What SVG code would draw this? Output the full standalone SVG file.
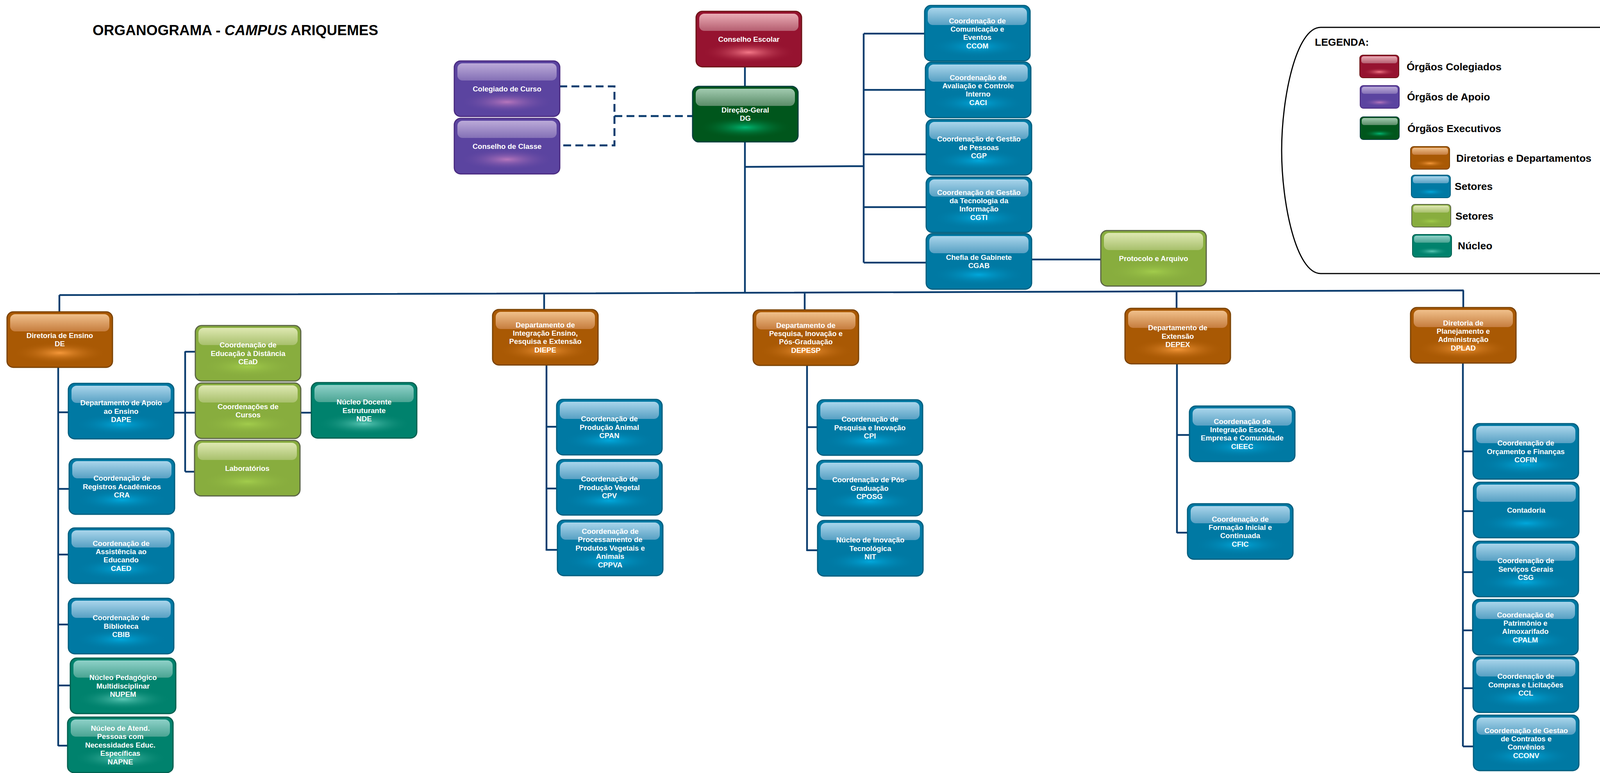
<svg xmlns="http://www.w3.org/2000/svg" width="4329" height="1978" viewBox="0 0 4329 1978">
<style>
text{font-family:"Liberation Sans",Arial,Helvetica,sans-serif;font-weight:bold}
.node text{fill:#ffffff;font-size:18.6px;text-anchor:middle}
.b{stroke-width:3}
.red .b{fill:#961330;stroke:#6e1416}.red .h{fill:url(#hl-red)}.red .g{fill:url(#gl-red)}
.pur .b{fill:#5b44a0;stroke:#4a2a80}.pur .h{fill:url(#hl-pur)}.pur .g{fill:url(#gl-pur)}
.grn .b{fill:#00561c;stroke:#043e3c}.grn .h{fill:url(#hl-grn)}.grn .g{fill:url(#gl-grn)}
.org .b{fill:#a95904;stroke:#7a4202}.org .h{fill:url(#hl-org)}.org .g{fill:url(#gl-org)}
.blu .b{fill:#0079a3;stroke:#005e7e}.blu .h{fill:url(#hl-blu)}.blu .g{fill:url(#gl-blu)}
.lgr .b{fill:#88ad3e;stroke:#5b6446}.lgr .h{fill:url(#hl-lgr)}.lgr .g{fill:url(#gl-lgr)}
.tea .b{fill:#00826d;stroke:#005f4f}.tea .h{fill:url(#hl-tea)}.tea .g{fill:url(#gl-tea)}
.con{fill:none;stroke:#0a3c6e;stroke-width:4.5}
.dash{fill:none;stroke:#0a3c6e;stroke-width:5;stroke-dasharray:20 11}
.leg{font-size:26.5px;fill:#000}
</style>
<defs>
<linearGradient id="hl-red" x1="0" y1="0" x2="0" y2="1"><stop offset="0" stop-color="#eaacb5"/><stop offset="1" stop-color="#b55e70"/></linearGradient>
<linearGradient id="hl-pur" x1="0" y1="0" x2="0" y2="1"><stop offset="0" stop-color="#bbaad8"/><stop offset="1" stop-color="#8470b6"/></linearGradient>
<linearGradient id="hl-grn" x1="0" y1="0" x2="0" y2="1"><stop offset="0" stop-color="#a2cbb0"/><stop offset="1" stop-color="#5a8c68"/></linearGradient>
<linearGradient id="hl-org" x1="0" y1="0" x2="0" y2="1"><stop offset="0" stop-color="#f0c08b"/><stop offset="1" stop-color="#c67d3e"/></linearGradient>
<linearGradient id="hl-blu" x1="0" y1="0" x2="0" y2="1"><stop offset="0" stop-color="#a9d5eb"/><stop offset="1" stop-color="#57a0c3"/></linearGradient>
<linearGradient id="hl-lgr" x1="0" y1="0" x2="0" y2="1"><stop offset="0" stop-color="#dee8b2"/><stop offset="1" stop-color="#a8c06c"/></linearGradient>
<linearGradient id="hl-tea" x1="0" y1="0" x2="0" y2="1"><stop offset="0" stop-color="#8ed1c8"/><stop offset="1" stop-color="#4aa493"/></linearGradient>
<radialGradient id="gl-red"><stop offset="0" stop-color="#f47888"/><stop offset="1" stop-color="#961330" stop-opacity="0"/></radialGradient>
<radialGradient id="gl-pur"><stop offset="0" stop-color="#b676bc"/><stop offset="1" stop-color="#5b44a0" stop-opacity="0"/></radialGradient>
<radialGradient id="gl-grn"><stop offset="0" stop-color="#00b773"/><stop offset="1" stop-color="#00561c" stop-opacity="0"/></radialGradient>
<radialGradient id="gl-org"><stop offset="0" stop-color="#f5983a"/><stop offset="1" stop-color="#a95904" stop-opacity="0"/></radialGradient>
<radialGradient id="gl-blu"><stop offset="0" stop-color="#00a8dc"/><stop offset="1" stop-color="#0079a3" stop-opacity="0"/></radialGradient>
<radialGradient id="gl-lgr"><stop offset="0" stop-color="#a2cc4c"/><stop offset="1" stop-color="#88ad3e" stop-opacity="0"/></radialGradient>
<radialGradient id="gl-tea"><stop offset="0" stop-color="#5cc8b6"/><stop offset="1" stop-color="#00826d" stop-opacity="0"/></radialGradient>
</defs>
<rect width="4329" height="1978" fill="#ffffff"/>

<text id="title" x="237" y="90" font-size="37" fill="#000">ORGANOGRAMA - <tspan font-style="italic">CAMPUS</tspan> ARIQUEMES</text>

<g id="connectors">
<path class="con" d="M1907,172V220M1907,364V750M1907,427L2211,425M2211,86V672M2211,86H2366M2211,230H2368M2211,395H2371M2211,530H2371M2211,672H2371M2641,664H2818"/>
<path class="con" d="M152,755L3747,743M152,755V798M1393,751V792M2060,749V793M3012,746V789M3746,743V787"/>
<path class="con" d="M149,941V1909M149,1055H175M149,1251H177M149,1419H175M149,1598H175M149,1754H180M149,1908H173"/>
<path class="con" d="M445,1056H500M474,899V1207M474,900H500M474,1207H498M770,1056H797"/>
<path class="con" d="M1399,934V1409M1399,1092H1425M1399,1250H1425M1399,1407H1427"/>
<path class="con" d="M2066,935V1410M2066,1093H2092M2066,1251H2091M2066,1408H2093"/>
<path class="con" d="M3013,931V1364M3013,1113H3045M3013,1363H3040"/>
<path class="con" d="M3745,929V1910M3745,1155H3771M3745,1308H3772M3745,1464H3771M3745,1613H3770M3745,1761H3771M3745,1910H3772"/>
<path class="dash" d="M1432,221H1573V372H1432M1573,297H1773"/>
</g>

<g id="n-conselho-escolar" class="node red" transform="translate(1782,29)"><rect class="b" width="270" height="142" rx="16"/><rect class="h" x="8" y="6" width="254" height="44" rx="13"/><ellipse class="g" cx="135" cy="105" rx="120" ry="28"/><text x="135" y="77.7">Conselho Escolar</text></g>
<g id="n-colegiado" class="node pur" transform="translate(1163,156)"><rect class="b" width="270" height="142" rx="16"/><rect class="h" x="8" y="6" width="254" height="44" rx="13"/><ellipse class="g" cx="135" cy="105" rx="120" ry="28"/><text x="135" y="77.7">Colegiado de Curso</text></g>
<g id="n-conselho-classe" class="node pur" transform="translate(1163,303)"><rect class="b" width="270" height="142" rx="16"/><rect class="h" x="8" y="6" width="254" height="44" rx="13"/><ellipse class="g" cx="135" cy="105" rx="120" ry="28"/><text x="135" y="77.7">Conselho de Classe</text></g>
<g id="n-dg" class="node grn" transform="translate(1773,221)"><rect class="b" width="270" height="142" rx="16"/><rect class="h" x="8" y="6" width="254" height="44" rx="13"/><ellipse class="g" cx="135" cy="105" rx="120" ry="28"/><text x="135" y="67">Direção-Geral<tspan x="135" dy="21.4">DG</tspan></text></g>

<g id="n-ccom" class="node blu" transform="translate(2367,14)"><rect class="b" width="270" height="142" rx="16"/><rect class="h" x="8" y="6" width="254" height="44" rx="13"/><ellipse class="g" cx="135" cy="105" rx="120" ry="28"/><text x="135" y="45.6">Coordenação de<tspan x="135" dy="21.4">Comunicação e</tspan><tspan x="135" dy="21.4">Eventos</tspan><tspan x="135" dy="21.4">CCOM</tspan></text></g>
<g id="n-caci" class="node blu" transform="translate(2369,159)"><rect class="b" width="270" height="142" rx="16"/><rect class="h" x="8" y="6" width="254" height="44" rx="13"/><ellipse class="g" cx="135" cy="105" rx="120" ry="28"/><text x="135" y="45.6">Coordenação de<tspan x="135" dy="21.4">Avaliação e Controle</tspan><tspan x="135" dy="21.4">Interno</tspan><tspan x="135" dy="21.4">CACI</tspan></text></g>
<g id="n-cgp" class="node blu" transform="translate(2371,306)"><rect class="b" width="270" height="142" rx="16"/><rect class="h" x="8" y="6" width="254" height="44" rx="13"/><ellipse class="g" cx="135" cy="105" rx="120" ry="28"/><text x="135" y="56.3">Coordenação de Gestão<tspan x="135" dy="21.4">de Pessoas</tspan><tspan x="135" dy="21.4">CGP</tspan></text></g>
<g id="n-cgti" class="node blu" transform="translate(2371,453)"><rect class="b" width="270" height="142" rx="16"/><rect class="h" x="8" y="6" width="254" height="44" rx="13"/><ellipse class="g" cx="135" cy="105" rx="120" ry="28"/><text x="135" y="45.6">Coordenação de Gestão<tspan x="135" dy="21.4">da Tecnologia da</tspan><tspan x="135" dy="21.4">Informação</tspan><tspan x="135" dy="21.4">CGTI</tspan></text></g>
<g id="n-cgab" class="node blu" transform="translate(2371,598)"><rect class="b" width="270" height="142" rx="16"/><rect class="h" x="8" y="6" width="254" height="44" rx="13"/><ellipse class="g" cx="135" cy="105" rx="120" ry="28"/><text x="135" y="67">Chefia de Gabinete<tspan x="135" dy="21.4">CGAB</tspan></text></g>
<g id="n-protocolo" class="node lgr" transform="translate(2818,590)"><rect class="b" width="270" height="142" rx="16"/><rect class="h" x="8" y="6" width="254" height="44" rx="13"/><ellipse class="g" cx="135" cy="105" rx="120" ry="28"/><text x="135" y="77.7">Protocolo e Arquivo</text></g>

<g id="n-de" class="node org" transform="translate(18,798)"><rect class="b" width="270" height="142" rx="16"/><rect class="h" x="8" y="6" width="254" height="44" rx="13"/><ellipse class="g" cx="135" cy="105" rx="120" ry="28"/><text x="135" y="67">Diretoria de Ensino<tspan x="135" dy="21.4">DE</tspan></text></g>
<g id="n-dape" class="node blu" transform="translate(175,981)"><rect class="b" width="270" height="142" rx="16"/><rect class="h" x="8" y="6" width="254" height="44" rx="13"/><ellipse class="g" cx="135" cy="105" rx="120" ry="28"/><text x="135" y="56.3">Departamento de Apoio<tspan x="135" dy="21.4">ao Ensino</tspan><tspan x="135" dy="21.4">DAPE</tspan></text></g>
<g id="n-cra" class="node blu" transform="translate(177,1174)"><rect class="b" width="270" height="142" rx="16"/><rect class="h" x="8" y="6" width="254" height="44" rx="13"/><ellipse class="g" cx="135" cy="105" rx="120" ry="28"/><text x="135" y="56.3">Coordenação de<tspan x="135" dy="21.4">Registros Acadêmicos</tspan><tspan x="135" dy="21.4">CRA</tspan></text></g>
<g id="n-caed" class="node blu" transform="translate(175,1351)"><rect class="b" width="270" height="142" rx="16"/><rect class="h" x="8" y="6" width="254" height="44" rx="13"/><ellipse class="g" cx="135" cy="105" rx="120" ry="28"/><text x="135" y="45.6">Coordenação de<tspan x="135" dy="21.4">Assistência ao</tspan><tspan x="135" dy="21.4">Educando</tspan><tspan x="135" dy="21.4">CAED</tspan></text></g>
<g id="n-cbib" class="node blu" transform="translate(175,1531)"><rect class="b" width="270" height="142" rx="16"/><rect class="h" x="8" y="6" width="254" height="44" rx="13"/><ellipse class="g" cx="135" cy="105" rx="120" ry="28"/><text x="135" y="56.3">Coordenação de<tspan x="135" dy="21.4">Biblioteca</tspan><tspan x="135" dy="21.4">CBIB</tspan></text></g>
<g id="n-nupem" class="node tea" transform="translate(180,1684)"><rect class="b" width="270" height="142" rx="16"/><rect class="h" x="8" y="6" width="254" height="44" rx="13"/><ellipse class="g" cx="135" cy="105" rx="120" ry="28"/><text x="135" y="56.3">Núcleo Pedagógico<tspan x="135" dy="21.4">Multidisciplinar</tspan><tspan x="135" dy="21.4">NUPEM</tspan></text></g>
<g id="n-napne" class="node tea" transform="translate(173,1835)"><rect class="b" width="270" height="142" rx="16"/><rect class="h" x="8" y="6" width="254" height="44" rx="13"/><ellipse class="g" cx="135" cy="105" rx="120" ry="28"/><text x="135" y="34.9">Núcleo de Atend.<tspan x="135" dy="21.4">Pessoas com</tspan><tspan x="135" dy="21.4">Necessidades Educ.</tspan><tspan x="135" dy="21.4">Específicas</tspan><tspan x="135" dy="21.4">NAPNE</tspan></text></g>
<g id="n-cead" class="node lgr" transform="translate(500,833)"><rect class="b" width="270" height="142" rx="16"/><rect class="h" x="8" y="6" width="254" height="44" rx="13"/><ellipse class="g" cx="135" cy="105" rx="120" ry="28"/><text x="135" y="56.3">Coordenação de<tspan x="135" dy="21.4">Educação à Distância</tspan><tspan x="135" dy="21.4">CEaD</tspan></text></g>
<g id="n-cursos" class="node lgr" transform="translate(500,980)"><rect class="b" width="270" height="142" rx="16"/><rect class="h" x="8" y="6" width="254" height="44" rx="13"/><ellipse class="g" cx="135" cy="105" rx="120" ry="28"/><text x="135" y="67">Coordenações de<tspan x="135" dy="21.4">Cursos</tspan></text></g>
<g id="n-labs" class="node lgr" transform="translate(498,1127)"><rect class="b" width="270" height="142" rx="16"/><rect class="h" x="8" y="6" width="254" height="44" rx="13"/><ellipse class="g" cx="135" cy="105" rx="120" ry="28"/><text x="135" y="77.7">Laboratórios</text></g>
<g id="n-nde" class="node tea" transform="translate(797,979)"><rect class="b" width="270" height="142" rx="16"/><rect class="h" x="8" y="6" width="254" height="44" rx="13"/><ellipse class="g" cx="135" cy="105" rx="120" ry="28"/><text x="135" y="56.3">Núcleo Docente<tspan x="135" dy="21.4">Estruturante</tspan><tspan x="135" dy="21.4">NDE</tspan></text></g>

<g id="n-diepe" class="node org" transform="translate(1261,792)"><rect class="b" width="270" height="142" rx="16"/><rect class="h" x="8" y="6" width="254" height="44" rx="13"/><ellipse class="g" cx="135" cy="105" rx="120" ry="28"/><text x="135" y="45.6">Departamento de<tspan x="135" dy="21.4">Integração Ensino,</tspan><tspan x="135" dy="21.4">Pesquisa e Extensão</tspan><tspan x="135" dy="21.4">DIEPE</tspan></text></g>
<g id="n-cpan" class="node blu" transform="translate(1425,1022)"><rect class="b" width="270" height="142" rx="16"/><rect class="h" x="8" y="6" width="254" height="44" rx="13"/><ellipse class="g" cx="135" cy="105" rx="120" ry="28"/><text x="135" y="56.3">Coordenação de<tspan x="135" dy="21.4">Produção Animal</tspan><tspan x="135" dy="21.4">CPAN</tspan></text></g>
<g id="n-cpv" class="node blu" transform="translate(1425,1176)"><rect class="b" width="270" height="142" rx="16"/><rect class="h" x="8" y="6" width="254" height="44" rx="13"/><ellipse class="g" cx="135" cy="105" rx="120" ry="28"/><text x="135" y="56.3">Coordenação de<tspan x="135" dy="21.4">Produção Vegetal</tspan><tspan x="135" dy="21.4">CPV</tspan></text></g>
<g id="n-cppva" class="node blu" transform="translate(1427,1331)"><rect class="b" width="270" height="142" rx="16"/><rect class="h" x="8" y="6" width="254" height="44" rx="13"/><ellipse class="g" cx="135" cy="105" rx="120" ry="28"/><text x="135" y="34.9">Coordenação de<tspan x="135" dy="21.4">Processamento de</tspan><tspan x="135" dy="21.4">Produtos Vegetais e</tspan><tspan x="135" dy="21.4">Animais</tspan><tspan x="135" dy="21.4">CPPVA</tspan></text></g>

<g id="n-depesp" class="node org" transform="translate(1928,793)"><rect class="b" width="270" height="142" rx="16"/><rect class="h" x="8" y="6" width="254" height="44" rx="13"/><ellipse class="g" cx="135" cy="105" rx="120" ry="28"/><text x="135" y="45.6">Departamento de<tspan x="135" dy="21.4">Pesquisa, Inovação e</tspan><tspan x="135" dy="21.4">Pós-Graduação</tspan><tspan x="135" dy="21.4">DEPESP</tspan></text></g>
<g id="n-cpi" class="node blu" transform="translate(2092,1023)"><rect class="b" width="270" height="142" rx="16"/><rect class="h" x="8" y="6" width="254" height="44" rx="13"/><ellipse class="g" cx="135" cy="105" rx="120" ry="28"/><text x="135" y="56.3">Coordenação de<tspan x="135" dy="21.4">Pesquisa e Inovação</tspan><tspan x="135" dy="21.4">CPI</tspan></text></g>
<g id="n-cposg" class="node blu" transform="translate(2091,1178)"><rect class="b" width="270" height="142" rx="16"/><rect class="h" x="8" y="6" width="254" height="44" rx="13"/><ellipse class="g" cx="135" cy="105" rx="120" ry="28"/><text x="135" y="56.3">Coordenação de Pós-<tspan x="135" dy="21.4">Graduação</tspan><tspan x="135" dy="21.4">CPOSG</tspan></text></g>
<g id="n-nit" class="node blu" transform="translate(2093,1332)"><rect class="b" width="270" height="142" rx="16"/><rect class="h" x="8" y="6" width="254" height="44" rx="13"/><ellipse class="g" cx="135" cy="105" rx="120" ry="28"/><text x="135" y="56.3">Núcleo de Inovação<tspan x="135" dy="21.4">Tecnológica</tspan><tspan x="135" dy="21.4">NIT</tspan></text></g>

<g id="n-depex" class="node org" transform="translate(2880,789)"><rect class="b" width="270" height="142" rx="16"/><rect class="h" x="8" y="6" width="254" height="44" rx="13"/><ellipse class="g" cx="135" cy="105" rx="120" ry="28"/><text x="135" y="56.3">Departamento de<tspan x="135" dy="21.4">Extensão</tspan><tspan x="135" dy="21.4">DEPEX</tspan></text></g>
<g id="n-cieec" class="node blu" transform="translate(3045,1039)"><rect class="b" width="270" height="142" rx="16"/><rect class="h" x="8" y="6" width="254" height="44" rx="13"/><ellipse class="g" cx="135" cy="105" rx="120" ry="28"/><text x="135" y="45.6">Coordenação de<tspan x="135" dy="21.4">Integração Escola,</tspan><tspan x="135" dy="21.4">Empresa e Comunidade</tspan><tspan x="135" dy="21.4">CIEEC</tspan></text></g>
<g id="n-cfic" class="node blu" transform="translate(3040,1289)"><rect class="b" width="270" height="142" rx="16"/><rect class="h" x="8" y="6" width="254" height="44" rx="13"/><ellipse class="g" cx="135" cy="105" rx="120" ry="28"/><text x="135" y="45.6">Coordenação de<tspan x="135" dy="21.4">Formação Inicial e</tspan><tspan x="135" dy="21.4">Continuada</tspan><tspan x="135" dy="21.4">CFIC</tspan></text></g>

<g id="n-dplad" class="node org" transform="translate(3611,787)"><rect class="b" width="270" height="142" rx="16"/><rect class="h" x="8" y="6" width="254" height="44" rx="13"/><ellipse class="g" cx="135" cy="105" rx="120" ry="28"/><text x="135" y="45.6">Diretoria de<tspan x="135" dy="21.4">Planejamento e</tspan><tspan x="135" dy="21.4">Administração</tspan><tspan x="135" dy="21.4">DPLAD</tspan></text></g>
<g id="n-cofin" class="node blu" transform="translate(3771,1084)"><rect class="b" width="270" height="142" rx="16"/><rect class="h" x="8" y="6" width="254" height="44" rx="13"/><ellipse class="g" cx="135" cy="105" rx="120" ry="28"/><text x="135" y="56.3">Coordenação de<tspan x="135" dy="21.4">Orçamento e Finanças</tspan><tspan x="135" dy="21.4">COFIN</tspan></text></g>
<g id="n-contadoria" class="node blu" transform="translate(3772,1234)"><rect class="b" width="270" height="142" rx="16"/><rect class="h" x="8" y="6" width="254" height="44" rx="13"/><ellipse class="g" cx="135" cy="105" rx="120" ry="28"/><text x="135" y="77.7">Contadoria</text></g>
<g id="n-csg" class="node blu" transform="translate(3771,1385)"><rect class="b" width="270" height="142" rx="16"/><rect class="h" x="8" y="6" width="254" height="44" rx="13"/><ellipse class="g" cx="135" cy="105" rx="120" ry="28"/><text x="135" y="56.3">Coordenação de<tspan x="135" dy="21.4">Serviços Gerais</tspan><tspan x="135" dy="21.4">CSG</tspan></text></g>
<g id="n-cpalm" class="node blu" transform="translate(3770,1534)"><rect class="b" width="270" height="142" rx="16"/><rect class="h" x="8" y="6" width="254" height="44" rx="13"/><ellipse class="g" cx="135" cy="105" rx="120" ry="28"/><text x="135" y="45.6">Coordenação de<tspan x="135" dy="21.4">Patrimônio e</tspan><tspan x="135" dy="21.4">Almoxarifado</tspan><tspan x="135" dy="21.4">CPALM</tspan></text></g>
<g id="n-ccl" class="node blu" transform="translate(3771,1681)"><rect class="b" width="270" height="142" rx="16"/><rect class="h" x="8" y="6" width="254" height="44" rx="13"/><ellipse class="g" cx="135" cy="105" rx="120" ry="28"/><text x="135" y="56.3">Coordenação de<tspan x="135" dy="21.4">Compras e Licitações</tspan><tspan x="135" dy="21.4">CCL</tspan></text></g>
<g id="n-cconv" class="node blu" transform="translate(3772,1830)"><rect class="b" width="270" height="142" rx="16"/><rect class="h" x="8" y="6" width="254" height="44" rx="13"/><ellipse class="g" cx="135" cy="105" rx="120" ry="28"/><text x="135" y="45.6">Coordenação de Gestao<tspan x="135" dy="21.4">de Contratos e</tspan><tspan x="135" dy="21.4">Convênios</tspan><tspan x="135" dy="21.4">CCONV</tspan></text></g>

<g id="legend">
<path d="M4306,70L3381,70C3318,70 3281,250 3281,385C3281,520 3318,700 3381,700L4306,700C4230,700 4176,540 4176,385C4176,230 4230,70 4306,70Z" fill="none" stroke="#000" stroke-width="3"/>
<text class="leg" x="3366" y="117">LEGENDA:</text>
<g class="red"><rect class="b" x="3481" y="141" width="100" height="58" rx="8" style="stroke-width:2"/><rect class="h" x="3485" y="144" width="92" height="18" rx="6"/><ellipse class="g" cx="3531" cy="184" rx="42" ry="10"/></g>
<g class="pur"><rect class="b" x="3482" y="219" width="100" height="58" rx="8" style="stroke-width:2"/><rect class="h" x="3486" y="222" width="92" height="18" rx="6"/><ellipse class="g" cx="3532" cy="262" rx="42" ry="10"/></g>
<g class="grn"><rect class="b" x="3482" y="299" width="100" height="58" rx="8" style="stroke-width:2"/><rect class="h" x="3486" y="302" width="92" height="18" rx="6"/><ellipse class="g" cx="3532" cy="342" rx="42" ry="10"/></g>
<g class="org"><rect class="b" x="3611" y="375" width="100" height="58" rx="8" style="stroke-width:2"/><rect class="h" x="3615" y="378" width="92" height="18" rx="6"/><ellipse class="g" cx="3661" cy="418" rx="42" ry="10"/></g>
<g class="blu"><rect class="b" x="3613" y="448" width="100" height="58" rx="8" style="stroke-width:2"/><rect class="h" x="3617" y="451" width="92" height="18" rx="6"/><ellipse class="g" cx="3663" cy="491" rx="42" ry="10"/></g>
<g class="lgr"><rect class="b" x="3614" y="523" width="100" height="58" rx="8" style="stroke-width:2"/><rect class="h" x="3618" y="526" width="92" height="18" rx="6"/><ellipse class="g" cx="3664" cy="566" rx="42" ry="10"/></g>
<g class="tea"><rect class="b" x="3616" y="600" width="100" height="58" rx="8" style="stroke-width:2"/><rect class="h" x="3620" y="603" width="92" height="18" rx="6"/><ellipse class="g" cx="3666" cy="643" rx="42" ry="10"/></g>
<text class="leg" x="3601" y="180">Órgãos Colegiados</text>
<text class="leg" x="3602" y="257">Órgãos de Apoio</text>
<text class="leg" x="3603" y="338">Órgãos Executivos</text>
<text class="leg" x="3728" y="414">Diretorias e Departamentos</text>
<text class="leg" x="3724" y="486">Setores</text>
<text class="leg" x="3726" y="562">Setores</text>
<text class="leg" x="3732" y="638">Núcleo</text>
</g>
</svg>
